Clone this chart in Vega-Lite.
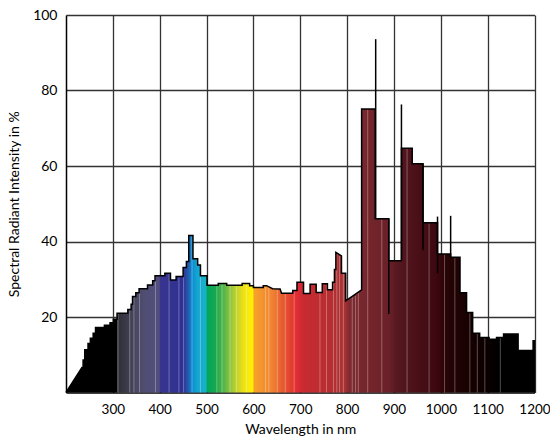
{
  "$schema": "https://vega.github.io/schema/vega-lite/v6.json",
  "width": 468.5,
  "height": 377.5,
  "autosize": {"type": "none"},
  "padding": {"left": 66, "top": 15, "right": 15.5, "bottom": 50.5},
  "background": "white",
  "config": {
    "view": {"stroke": null},
    "axis": {
      "labelFont": "Lato", "titleFont": "Lato",
      "labelFontSize": 13.5, "titleFontSize": 14, "titleFontWeight": "normal",
      "labelColor": "#000", "titleColor": "#000",
      "ticks": false,
      "gridColor": "#333333", "gridWidth": 1.3, "gridOpacity": 1,
      "domainColor": "#000", "domainWidth": 1.5,
      "zindex": 1
    }
  },
  "datasets": {
    "profile": [
      {"w": 200, "v": 0}, {"w": 234, "v": 6.6}, {"w": 236.5, "v": 6.6}, {"w": 236.5, "v": 8.6},
      {"w": 240, "v": 8.6}, {"w": 240, "v": 11.3}, {"w": 247, "v": 11.3}, {"w": 247, "v": 13.0},
      {"w": 252, "v": 13.0}, {"w": 252, "v": 14.4}, {"w": 258, "v": 14.4}, {"w": 258, "v": 15.7},
      {"w": 263, "v": 15.7}, {"w": 263, "v": 17.2}, {"w": 282, "v": 17.2}, {"w": 282, "v": 17.8},
      {"w": 294, "v": 17.8}, {"w": 294, "v": 18.5}, {"w": 301, "v": 18.5}, {"w": 301, "v": 19.4},
      {"w": 309, "v": 19.4}, {"w": 309, "v": 21.0}, {"w": 332, "v": 21.0}, {"w": 332, "v": 22.0},
      {"w": 339, "v": 22.0}, {"w": 339, "v": 23.4}, {"w": 342, "v": 23.4}, {"w": 342, "v": 25.4},
      {"w": 349, "v": 25.4}, {"w": 349, "v": 26.4}, {"w": 356, "v": 26.4}, {"w": 356, "v": 27.5},
      {"w": 374, "v": 27.5}, {"w": 374, "v": 28.5}, {"w": 385, "v": 28.5}, {"w": 385, "v": 29.6},
      {"w": 390, "v": 29.6}, {"w": 390, "v": 30.9}, {"w": 411, "v": 30.9}, {"w": 411, "v": 31.6},
      {"w": 423, "v": 31.6}, {"w": 423, "v": 29.8}, {"w": 435, "v": 29.8}, {"w": 435, "v": 30.7},
      {"w": 450, "v": 30.7}, {"w": 450, "v": 33.1}, {"w": 457, "v": 33.1}, {"w": 457, "v": 34.7},
      {"w": 462, "v": 34.7}, {"w": 462, "v": 41.6}, {"w": 471, "v": 41.6}, {"w": 471, "v": 35.4},
      {"w": 481, "v": 35.4}, {"w": 481, "v": 33.8}, {"w": 487, "v": 33.8}, {"w": 487, "v": 30.9},
      {"w": 501, "v": 30.9}, {"w": 501, "v": 28.4}, {"w": 525, "v": 28.4}, {"w": 525, "v": 28.9},
      {"w": 543, "v": 28.9}, {"w": 543, "v": 28.4}, {"w": 576, "v": 28.4}, {"w": 576, "v": 28.9},
      {"w": 592, "v": 28.9}, {"w": 592, "v": 28.3}, {"w": 600, "v": 28.3}, {"w": 600, "v": 27.8},
      {"w": 621, "v": 27.8}, {"w": 621, "v": 28.3}, {"w": 628, "v": 28.3}, {"w": 641, "v": 27.5},
      {"w": 657, "v": 27.4}, {"w": 660, "v": 26.3}, {"w": 684, "v": 26.3}, {"w": 684, "v": 27.0},
      {"w": 693, "v": 27.0}, {"w": 693, "v": 29.2}, {"w": 707, "v": 29.2}, {"w": 707, "v": 26.2},
      {"w": 721, "v": 26.2}, {"w": 721, "v": 28.7}, {"w": 734, "v": 28.7}, {"w": 734, "v": 26.5},
      {"w": 747, "v": 26.5}, {"w": 747, "v": 28.8}, {"w": 758, "v": 28.8}, {"w": 758, "v": 27.2},
      {"w": 769, "v": 27.2}, {"w": 769, "v": 29.2}, {"w": 773, "v": 29.2}, {"w": 773, "v": 32.6},
      {"w": 776, "v": 32.6}, {"w": 776, "v": 37.1}, {"w": 788, "v": 36.2}, {"w": 788, "v": 31.6},
      {"w": 797, "v": 31.6}, {"w": 797, "v": 24.3}, {"w": 831, "v": 27.2}, {"w": 831, "v": 75.1},
      {"w": 860, "v": 75.1}, {"w": 860, "v": 46.0}, {"w": 889, "v": 46.0}, {"w": 889, "v": 34.9},
      {"w": 916, "v": 34.9}, {"w": 916, "v": 64.7}, {"w": 939, "v": 64.7}, {"w": 939, "v": 60.6},
      {"w": 962, "v": 60.6}, {"w": 962, "v": 45.0}, {"w": 993, "v": 45.0}, {"w": 993, "v": 36.7},
      {"w": 1021, "v": 36.7}, {"w": 1021, "v": 35.8}, {"w": 1041, "v": 35.8}, {"w": 1041, "v": 26.4},
      {"w": 1055, "v": 26.4}, {"w": 1055, "v": 21.2}, {"w": 1068, "v": 21.2}, {"w": 1068, "v": 15.7},
      {"w": 1083, "v": 15.7}, {"w": 1083, "v": 14.6}, {"w": 1103, "v": 14.6}, {"w": 1103, "v": 14.1},
      {"w": 1119, "v": 14.1}, {"w": 1119, "v": 14.6}, {"w": 1134, "v": 14.6}, {"w": 1134, "v": 15.5},
      {"w": 1165, "v": 15.5}, {"w": 1165, "v": 11.1}, {"w": 1197, "v": 11.1}, {"w": 1197, "v": 13.7},
      {"w": 1200, "v": 13.7}, {"w": 1200, "v": 0}
    ],
    "separators": [
      {"w": 311, "v": 20.8}, {"w": 336, "v": 21.8}, {"w": 345, "v": 25.2}, {"w": 357, "v": 27.3},
      {"w": 391, "v": 30.7}, {"w": 420, "v": 31.4}, {"w": 441, "v": 30.5}, {"w": 451, "v": 32.9},
      {"w": 469, "v": 41.4}, {"w": 487, "v": 30.7}, {"w": 522, "v": 28.2}, {"w": 533, "v": 28.7},
      {"w": 550, "v": 28.2}, {"w": 564, "v": 28.2}, {"w": 585, "v": 28.7}, {"w": 626, "v": 28.1},
      {"w": 633, "v": 27.9}, {"w": 651, "v": 27.2}, {"w": 668, "v": 26.1}, {"w": 687, "v": 26.8},
      {"w": 742, "v": 26.3}, {"w": 756, "v": 28.6}, {"w": 771, "v": 29.0}, {"w": 778, "v": 36.8},
      {"w": 784, "v": 36.3}, {"w": 792, "v": 31.4}, {"w": 811, "v": 25.3}, {"w": 818, "v": 25.6},
      {"w": 824, "v": 26.4}, {"w": 844, "v": 74.9}, {"w": 874, "v": 45.8}, {"w": 928, "v": 64.5},
      {"w": 975, "v": 44.8}, {"w": 1008, "v": 36.5}, {"w": 1030, "v": 35.6}, {"w": 1062, "v": 21.0},
      {"w": 1078, "v": 15.5}, {"w": 1094, "v": 14.4}, {"w": 1127, "v": 14.4}
    ],
    "lines": [
      {"w": 861, "v": 46.0, "v2": 93.6},
      {"w": 889, "v": 20.8, "v2": 46.0},
      {"w": 916, "v": 34.9, "v2": 76.3},
      {"w": 962, "v": 37.7, "v2": 60.6},
      {"w": 993, "v": 31.6, "v2": 46.6},
      {"w": 1021, "v": 35.8, "v2": 46.8}
    ]
  },
  "encoding": {
    "x": {
      "field": "w", "type": "quantitative",
      "scale": {"domain": [200, 1200], "nice": false, "zero": false},
      "axis": {
        "values": [300, 400, 500, 600, 700, 800, 900, 1000, 1100, 1200],
        "format": "d",
        "title": "Wavelength in nm", "labelPadding": 10, "titlePadding": 6,
        "labelFlush": false
      }
    },
    "y": {
      "field": "v", "type": "quantitative", "stack": null,
      "scale": {"domain": [0, 100], "nice": false},
      "axis": {
        "values": [20, 40, 60, 80, 100],
        "title": "Spectral Radiant Intensity in %", "labelPadding": 9, "titlePadding": 11,
        "labelFontSize": 14
      }
    }
  },
  "layer": [
    {
      "data": {"name": "profile"},
      "mark": {
        "type": "area",
        "opacity": 1,
        "color": {
          "gradient": "linear", "x1": 0, "y1": 0, "x2": 1, "y2": 0,
          "stops": [
            {"offset": 0, "color": "#000000"},
            {"offset": 0.108, "color": "#000000"},
            {"offset": 0.11, "color": "#2e2e34"},
            {"offset": 0.15, "color": "#4a4862"},
            {"offset": 0.17, "color": "#504e74"},
            {"offset": 0.199, "color": "#524e7e"},
            {"offset": 0.201, "color": "#38358f"},
            {"offset": 0.25, "color": "#2e3092"},
            {"offset": 0.26, "color": "#2458ab"},
            {"offset": 0.27, "color": "#0a8ed2"},
            {"offset": 0.28, "color": "#15a5d2"},
            {"offset": 0.299, "color": "#18b3c6"},
            {"offset": 0.301, "color": "#00a65c"},
            {"offset": 0.32, "color": "#1aa84e"},
            {"offset": 0.34, "color": "#62b848"},
            {"offset": 0.36, "color": "#b5cf32"},
            {"offset": 0.38, "color": "#f0e214"},
            {"offset": 0.399, "color": "#fff200"},
            {"offset": 0.401, "color": "#f7a22a"},
            {"offset": 0.44, "color": "#f08232"},
            {"offset": 0.46, "color": "#e85e30"},
            {"offset": 0.48, "color": "#e2402f"},
            {"offset": 0.495, "color": "#e02a36"},
            {"offset": 0.505, "color": "#c92b32"},
            {"offset": 0.55, "color": "#bb2d31"},
            {"offset": 0.595, "color": "#a83132"},
            {"offset": 0.605, "color": "#7e2a30"},
            {"offset": 0.69, "color": "#6a2028"},
            {"offset": 0.705, "color": "#571820"},
            {"offset": 0.79, "color": "#3e0810"},
            {"offset": 0.81, "color": "#280405"},
            {"offset": 0.86, "color": "#180101"},
            {"offset": 0.9, "color": "#0a0000"},
            {"offset": 0.92, "color": "#000000"},
            {"offset": 1, "color": "#000000"}
          ]
        }
      },
      "encoding": {"order": {"value": null}}
    },
    {
      "data": {"name": "separators"},
      "mark": {"type": "rule", "color": "#ffffff", "strokeWidth": 1, "opacity": 0.3},
      "encoding": {"y2": {"datum": 0}}
    },
    {
      "data": {"name": "profile"},
      "mark": {"type": "line", "color": "#000", "strokeWidth": 1.5, "strokeJoin": "miter"},
      "encoding": {"order": {"value": null}}
    },
    {
      "data": {"name": "lines"},
      "mark": {"type": "rule", "color": "#000", "strokeWidth": 1.5},
      "encoding": {"y2": {"field": "v2"}}
    }
  ]
}
